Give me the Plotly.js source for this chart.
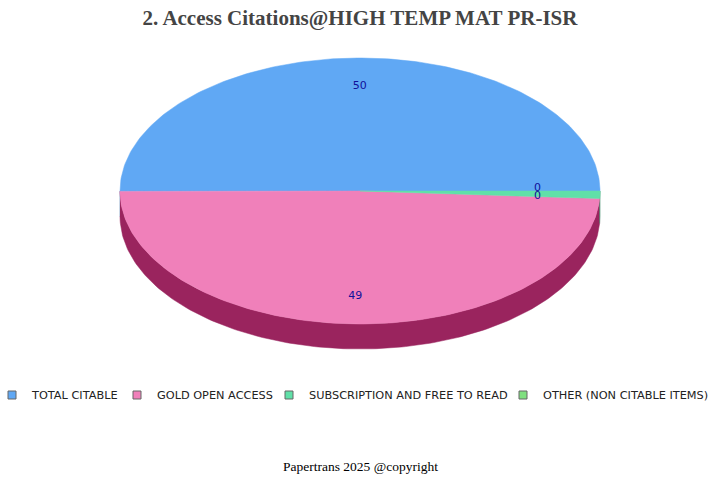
<!DOCTYPE html>
<html><head><meta charset="utf-8">
<script src="https://cdn.plot.ly/plotly-3.0.1.min.js"></script>
<style>body{margin:0;background:#fff}</style></head>
<body><div id="chart" style="width:720px;height:480px"></div>
<script>
const categories = ['TOTAL CITABLE', 'GOLD OPEN ACCESS', 'SUBSCRIPTION AND FREE TO READ', 'OTHER (NON CITABLE ITEMS)'];
const values = [50, 49, 0.9, 0];
const colors = ['#60a8f4', '#f080ba', '#60e0a8', '#80e080'];
const sideColors = ['#2f5f9a', '#9a245e', '#2f9a6a', '#3f8a3f'];
const titleText = '2. Access Citations@HIGH TEMP MAT PR-ISR';
const footerText = 'Papertrans 2025 @copyright';

// geometry / layout style constants (pixels)
const CX = 360, CY = 191, RX = 240, RY = 133, DEPTH = 25, FX = 0.74, FY = 0.79;
const legendTextStart = [32, 157, 309, 543];
const LEGEND_OFFSET = 40; // text start relative to legend box left
const total = values.reduce((a, b) => a + b, 0);
function pt(deg, dy, f) {
  const r = deg * Math.PI / 180; f = f || [1, 1];
  return [CX + RX * f[0] * Math.cos(r), CY - RY * f[1] * Math.sin(r) + (dy || 0)];
}
function arc(a, b, dy) {
  const xs = [], ys = [];
  const n = Math.max(2, Math.ceil(Math.abs(b - a)));
  for (let i = 0; i <= n; i++) { const p = pt(a + (b - a) * i / n, dy); xs.push(p[0]); ys.push(p[1]); }
  return [xs, ys];
}
const slices = [];
let acc = 0;
values.forEach((v, i) => { const s = acc, e = acc + v / total * 360; slices.push([s, e]); acc = e; });

const traces = [];
// side walls (front half only)
slices.forEach(([s, e], i) => {
  const a = Math.max(s, 180), b = Math.min(e, 360);
  if (b <= a) return;
  const top = arc(a, b, 0), bot = arc(b, a, DEPTH);
  traces.push({ type: 'scatter', mode: 'lines', x: top[0].concat(bot[0]), y: top[1].concat(bot[1]),
    fill: 'toself', fillcolor: sideColors[i], line: { color: sideColors[i], width: 0.5 },
    hoverinfo: 'skip', showlegend: false });
});
// top faces
slices.forEach(([s, e], i) => {
  if (e <= s) return;
  const ar = arc(s, e, 0);
  traces.push({ type: 'scatter', mode: 'lines', x: [CX].concat(ar[0], [CX]), y: [CY].concat(ar[1], [CY]),
    fill: 'toself', fillcolor: colors[i], line: { color: colors[i], width: 0.5 },
    hoverinfo: 'skip', showlegend: false });
});
// value labels (spread apart when they collide)
const lx = [], ly = [], lt = [];
slices.forEach(([s, e], i) => {
  const p = pt((s + e) / 2, 0, [FX, FY]);
  lx.push(p[0]); ly.push(p[1]); lt.push(String(Math.floor(values[i])));
});
for (let i = 1; i < lx.length; i++) {
  for (let j = 0; j < i; j++) {
    if (Math.abs(lx[i] - lx[j]) < 12 && Math.abs(ly[i] - ly[j]) < 8) {
      const mid = (ly[i] + ly[j]) / 2;
      const up = ly[i] <= ly[j] ? i : j, dn = up === i ? j : i;
      ly[up] = mid - 4; ly[dn] = mid + 4;
    }
  }
}
traces.push({ type: 'scatter', mode: 'text', x: lx, y: ly, text: lt, textposition: 'middle center',
  textfont: { family: 'DejaVu Sans', size: 11, color: '#10109a' }, hoverinfo: 'skip', showlegend: false });
// legend entries, one legend box per entry
const legendNames = ['legend', 'legend2', 'legend3', 'legend4'];
categories.forEach((c, i) => {
  traces.push({ type: 'scatter', mode: 'markers', x: [null], y: [null], name: c, legend: legendNames[i],
    marker: { symbol: 'square', size: 8, color: colors[i], line: { color: '#666', width: 1 } } });
});

const layout = {
  width: 720, height: 480,
  margin: { l: 0, r: 0, t: 0, b: 0, autoexpand: false },
  paper_bgcolor: '#fff', plot_bgcolor: '#fff',
  xaxis: { range: [0, 720], visible: false, fixedrange: true },
  yaxis: { range: [480, 0], visible: false, fixedrange: true },
  title: { text: '<b>' + titleText + '</b>', font: { family: 'Liberation Serif', size: 21, color: '#444' },
    x: 0.5, xanchor: 'center', y: 1 - 18 / 480, yanchor: 'middle' },
  showlegend: true,
  annotations: [{ text: footerText, xref: 'paper', yref: 'paper', x: 0.5, y: 1 - 466 / 480,
    xanchor: 'center', yanchor: 'middle', showarrow: false,
    font: { family: 'Liberation Serif', size: 13.5, color: '#000' } }]
};
legendNames.forEach((ln, i) => {
  layout[ln] = { orientation: 'h', x: (legendTextStart[i] - LEGEND_OFFSET) / 720, xanchor: 'left',
    y: 1 - 395 / 480, yanchor: 'middle', bgcolor: 'rgba(0,0,0,0)',
    font: { family: 'DejaVu Sans', size: 11.3, color: '#222' } };
});
Plotly.newPlot('chart', traces, layout, { staticPlot: true, displayModeBar: false });
</script></body></html>
